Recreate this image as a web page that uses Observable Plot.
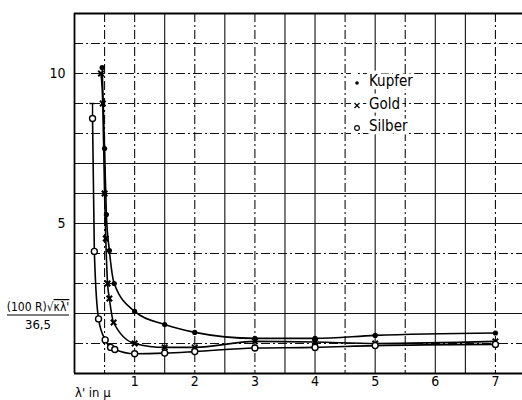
<!DOCTYPE html>
<html>
<head>
<meta charset="utf-8">
<script src="https://cdn.jsdelivr.net/npm/d3@7"></script>
<script src="https://cdn.jsdelivr.net/npm/@observablehq/plot@0.6"></script>
<style>
  html, body { margin: 0; padding: 0; background: white; }
</style>
</head>
<body>
<div id="chart"></div>
<script>
// Data
const kupferX = [0.46, 0.50, 0.53, 0.58, 0.66, 1.0, 1.5, 2.0, 3.0, 4.0, 5.0, 7.0];
const kupferY = [10.2, 7.5, 5.3, 4.1, 3.0, 2.07, 1.63, 1.37, 1.17, 1.17, 1.27, 1.35];
const goldX = [0.44, 0.47, 0.50, 0.52, 0.55, 0.58, 0.65, 1.0, 1.5, 2.0, 3.0, 4.0, 5.0, 7.0];
const goldY = [10.0, 9.0, 6.0, 4.5, 3.0, 2.5, 1.7, 1.0, 0.87, 0.87, 1.07, 1.05, 1.0, 1.07];
const silberX = [0.30, 0.33, 0.40, 0.51, 0.60, 0.67, 1.0, 1.5, 2.0, 3.0, 4.0, 5.0, 7.0];
const silberY = [8.5, 4.07, 1.82, 1.12, 0.87, 0.80, 0.66, 0.68, 0.73, 0.85, 0.87, 0.93, 0.97];
const silberErrX = [0.30];
const silberErrLo = [8.5];
const silberErrHi = [9.0];

const xTicks = [1, 2, 3, 4, 5, 6, 7];
const yTicks = [5, 10];
const gridXSolid = [1.5, 2.5, 3.5, 4, 5, 6, 6.5];
const gridXDash = [0.5, 1, 2, 3, 4.5, 5.5, 7];
const gridYSolid = [2, 5, 6, 7];
const gridYDash = [1, 3, 4, 8, 9, 10, 11];

const legendNames = ["Kupfer", "Gold", "Silber"];
const yLabelTop = "(100 R)√";
const yLabelOver = "κλ'";
const yLabelBottom = "36,5";
const xLabel = "λ' in µ";

const toRows = (xs, ys) => xs.map((x, i) => ({x, y: ys[i]}));
const kupfer = toRows(kupferX, kupferY);
const gold = toRows(goldX, goldY);
const silber = toRows(silberX, silberY);
const err = silberErrX.map((x, i) => ({x, y1: silberErrLo[i], y2: silberErrHi[i]}));

const font = "'DejaVu Sans Condensed', 'DejaVu Sans', sans-serif";
const dash = "9,3,2,3";
const capHalf = 0.045;

const chart = Plot.plot({
  width: 522,
  height: 400,
  marginLeft: 74,
  marginRight: 0,
  marginTop: 13,
  marginBottom: 27,
  style: {fontFamily: font, fontSize: "14px", background: "white", color: "black"},
  x: {type: "linear", domain: [0, 7.45], ticks: xTicks, tickSize: 0, tickPadding: 3, label: null},
  y: {type: "linear", domain: [0, 12], ticks: yTicks, tickSize: 0, tickPadding: 9, label: null},
  marks: [
    Plot.ruleX(gridXSolid, {stroke: "#111", strokeWidth: 1.1}),
    Plot.ruleX(gridXDash, {stroke: "#111", strokeWidth: 1.1, strokeDasharray: dash}),
    Plot.ruleY(gridYSolid, {stroke: "#111", strokeWidth: 1.1}),
    Plot.ruleY(gridYDash, {stroke: "#111", strokeWidth: 1.1, strokeDasharray: dash}),
    Plot.ruleX([0], {stroke: "#000", strokeWidth: 1.8}),
    Plot.ruleY([0, 12], {stroke: "#000", strokeWidth: 1.8}),
    Plot.line(kupfer, {x: "x", y: "y", curve: "monotone-x", stroke: "#000", strokeWidth: 1.6}),
    Plot.line(gold, {x: "x", y: "y", curve: "monotone-x", stroke: "#000", strokeWidth: 1.6}),
    Plot.line(silber, {x: "x", y: "y", curve: "monotone-x", stroke: "#000", strokeWidth: 1.6}),
    Plot.ruleX(err, {x: "x", y1: "y1", y2: "y2", stroke: "#000", strokeWidth: 1.4}),
    Plot.ruleY(err, {y: "y2", x1: d => d.x - capHalf, x2: d => d.x + capHalf, stroke: "#000", strokeWidth: 1.4}),
    Plot.dot(kupfer, {x: "x", y: "y", r: 2.6, fill: "#000", stroke: "none"}),
    Plot.dot(gold, {x: "x", y: "y", r: 2.6, symbol: "times", stroke: "#000", strokeWidth: 2}),
    Plot.dot(silber, {x: "x", y: "y", r: 3, fill: "white", stroke: "#000", strokeWidth: 1.4})
  ]
});
document.getElementById("chart").appendChild(chart);

// Annotation texts and legend
const svg = d3.select(chart);
const g = svg.append("g").attr("font-family", font).attr("fill", "black").attr("text-anchor", "start");

// y-axis fraction label
const num = g.append("text").attr("x", 38).attr("y", 311).attr("text-anchor", "middle").attr("font-size", 12);
num.append("tspan").text(yLabelTop);
num.append("tspan").attr("text-decoration", "overline").text(yLabelOver);
g.append("line").attr("x1", 7).attr("x2", 69).attr("y1", 315).attr("y2", 315).attr("stroke", "black").attr("stroke-width", 1.2);
g.append("text").attr("x", 38).attr("y", 329).attr("text-anchor", "middle").attr("font-size", 13).text(yLabelBottom);

// x-axis label
g.append("text").attr("x", 75).attr("y", 397).attr("text-anchor", "start").attr("font-size", 13).text(xLabel);

// legend
const lg = g.append("g").attr("text-anchor", "start");
legendNames.forEach((name, i) => {
  const yy = 86 + i * 22.5;
  lg.append("rect").attr("x", 351).attr("y", yy - 14).attr("width", 6).attr("height", 17).attr("fill", "white");
  lg.append("text").attr("x", 369).attr("y", yy).attr("font-size", 15)
    .attr("stroke", "white").attr("stroke-width", 7).attr("stroke-linejoin", "round").text(name);
  lg.append("text").attr("x", 369).attr("y", yy).attr("font-size", 15).text(name);
  const cy = yy - 3;
  lg.append("circle").attr("cx", 357).attr("cy", cy).attr("r", 5).attr("fill", "white");
  if (i === 0) lg.append("circle").attr("cx", 357).attr("cy", cy).attr("r", 1.8).attr("fill", "black");
  if (i === 1) lg.append("path").attr("d", `M${354.5},${cy - 2.5}L${359.5},${cy + 2.5}M${359.5},${cy - 2.5}L${354.5},${cy + 2.5}`).attr("stroke", "black").attr("stroke-width", 1.2);
  if (i === 2) lg.append("circle").attr("cx", 357).attr("cy", cy).attr("r", 2.4).attr("fill", "white").attr("stroke", "black").attr("stroke-width", 1.1);
});
</script>
</body>
</html>
